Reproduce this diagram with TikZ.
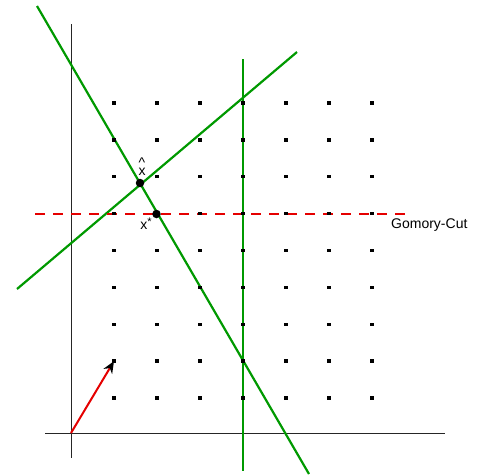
\documentclass[tikz,border=0pt]{standalone}
\usepackage{fontspec}
\setmainfont{Liberation Sans}
\usetikzlibrary{arrows.meta}
\begin{document}
\begin{tikzpicture}[x=1pt,y=-1pt,
  axis/.style={line width=1pt,black!85},
  gline/.style={line width=2.2pt,green!60!black},
  cut/.style={line width=2pt,red!90!black,dash pattern=on 10pt off 8pt},
  gdot/.style={fill=black,minimum size=3.4pt,inner sep=0pt,draw=none,rectangle},
  pt/.style={circle,fill=black,minimum size=8.5pt,inner sep=0pt},
  lbl/.style={font=\fontsize{14}{14}\selectfont,inner sep=0pt}]
\useasboundingbox (0,0) rectangle (477,475);
% axes
\coordinate (ytop) at (71,24);
\coordinate (ybot) at (71,458);
\coordinate (xl) at (45,433);
\coordinate (xr) at (445,433);
\coordinate (O) at (71,433);
\draw[axis] (ytop) -- (ybot);
\draw[axis] (xl) -- (xr);
% constraint lines
\coordinate (a1) at (37,6);
\coordinate (a2) at (309,474);
\coordinate (b1) at (17,289);
\coordinate (b2) at (297,52);
\coordinate (c1) at (243,59);
\coordinate (c2) at (243,471);
\draw[gline] (a1) -- (a2);
\draw[gline] (b1) -- (b2);
\draw[gline] (c1) -- (c2);
% Gomory cut
\coordinate (d1) at (35,214);
\coordinate (d2) at (412,214);
\draw[cut] (d1) -- (d2);
\node[lbl,anchor=west] (gc) at (391,225) {Gomory-Cut};
% grid points
\foreach \i in {1,...,7}{
  \foreach \j in {0,...,8}{
    \node[gdot] (g\i\j) at ({71+43*\i},{398-36.875*\j}) {};
  }
}
% points
\node[pt] (xhat) at (140,183) {};
\node[pt] (xstar) at (156.5,214) {};
\node[lbl] (xhatl) at (142,167) {\makebox[0pt][l]{\raisebox{8pt}{\^{}}}x};
\node[lbl] (xstarl) at (146,224) {x\raisebox{4pt}{\fontsize{11}{11}\selectfont *}};
% arrow
\draw[line width=2pt,red!90!black,-{Stealth[length=12pt,width=10pt,black]}] (O) -- (g11.center);
\end{tikzpicture}
\end{document}
